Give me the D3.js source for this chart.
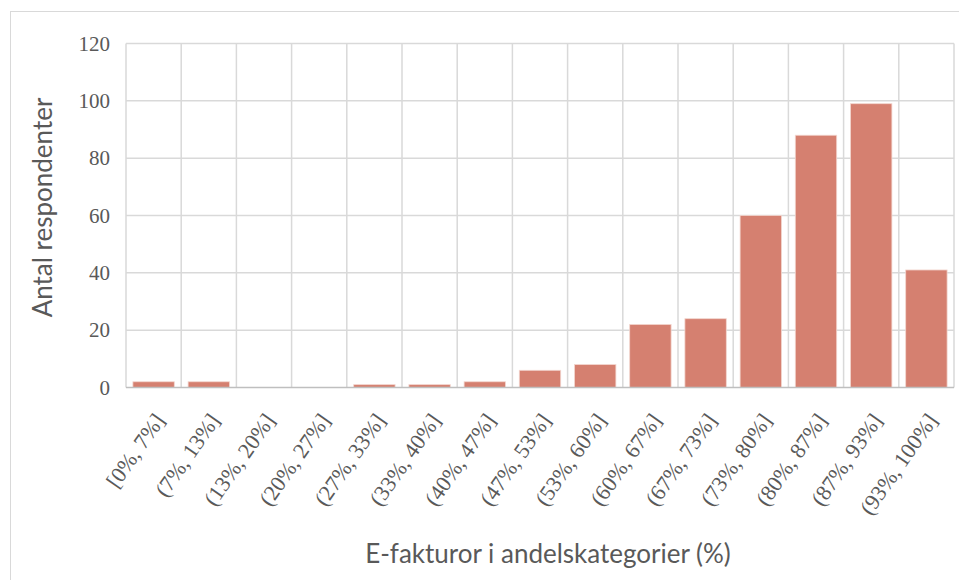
<!DOCTYPE html>
<html><head><meta charset="utf-8">
<script src="https://cdn.jsdelivr.net/npm/d3@7"></script>
<style>body{margin:0;background:#fff}svg{display:block}</style>
</head><body>
<svg id="c" width="959" height="580"></svg>
<script>
const categories = ["[0%, 7%]","(7%, 13%]","(13%, 20%]","(20%, 27%]","(27%, 33%]","(33%, 40%]","(40%, 47%]","(47%, 53%]","(53%, 60%]","(60%, 67%]","(67%, 73%]","(73%, 80%]","(80%, 87%]","(87%, 93%]","(93%, 100%]"];
const values = [2,2,0,0,1,1,2,6,8,22,24,60,88,99,41];
const yTicks = [0,20,40,60,80,100,120];
const yTitle = "Antal respondenter";
const xTitle = "E-fakturor i andelskategorier (%)";

const svg = d3.select("#c");
const m = {left:126, top:43.5, right:954, bottom:387.5};
svg.append("rect").attr("x",10.5).attr("y",11.5).attr("width",960).attr("height",600)
  .attr("fill","#fff").attr("stroke","#d9d9d9").attr("stroke-width",1);

const x = d3.scaleBand().domain(categories).range([m.left,m.right]).paddingInner(0.25).paddingOuter(0.125);
const y = d3.scaleLinear().domain([0,120]).range([m.bottom,m.top]);
const bw = (m.right-m.left)/categories.length;

// horizontal grid
svg.append("g").selectAll("line").data(yTicks.slice(1)).join("line")
  .attr("x1",m.left).attr("x2",m.right).attr("y1",d=>y(d)).attr("y2",d=>y(d))
  .attr("stroke","#d9d9d9").attr("stroke-width",1.5);
// vertical grid at category boundaries
svg.append("g").selectAll("line").data(d3.range(categories.length+1)).join("line")
  .attr("x1",i=>m.left+i*bw).attr("x2",i=>m.left+i*bw).attr("y1",m.top).attr("y2",m.bottom)
  .attr("stroke","#d9d9d9").attr("stroke-width",1.5);

// bars
svg.append("g").selectAll("rect").data(values).join("rect")
  .attr("x",(d,i)=>x(categories[i])).attr("width",x.bandwidth())
  .attr("y",d=>y(d)).attr("height",d=>y(0)-y(d))
  .attr("fill","#d58070").attr("stroke","#f3d6cf").attr("stroke-width",0.8);

// baseline
svg.append("line").attr("x1",m.left).attr("x2",m.right).attr("y1",y(0)).attr("y2",y(0))
  .attr("stroke","#bfbfbf").attr("stroke-width",1.5);

// y axis
const yAxis = d3.axisLeft(y).tickValues(yTicks).tickSize(0).tickPadding(16);
const gy = svg.append("g").attr("transform",`translate(${m.left},0)`).call(yAxis);
gy.select(".domain").remove();
gy.selectAll("text").attr("font-family","'Liberation Serif', serif").attr("font-size",21).attr("fill","#595959");

// x axis labels
const xAxis = d3.axisBottom(x).tickSize(0).tickPadding(0);
const gx = svg.append("g").attr("transform",`translate(0,${m.bottom})`).call(xAxis);
gx.select(".domain").remove();
gx.selectAll("text").attr("font-family","'Liberation Serif', serif").attr("font-size",22).attr("fill","#595959")
  .attr("text-anchor","end").attr("dy",null).attr("y",0)
  .attr("transform","translate(12,33) rotate(-55)");

// titles
svg.append("text").attr("transform",`translate(52,${(m.top+m.bottom)/2-8}) rotate(-90)`)
  .attr("text-anchor","middle").attr("font-family","Lato, 'Open Sans', sans-serif").attr("font-size",26)
  .attr("fill","#595959").text(yTitle);
svg.append("text").attr("x",548).attr("y",563).attr("text-anchor","middle")
  .attr("font-family","Lato, 'Open Sans', sans-serif").attr("font-size",26)
  .attr("fill","#595959").text(xTitle);
</script>
</body></html>
